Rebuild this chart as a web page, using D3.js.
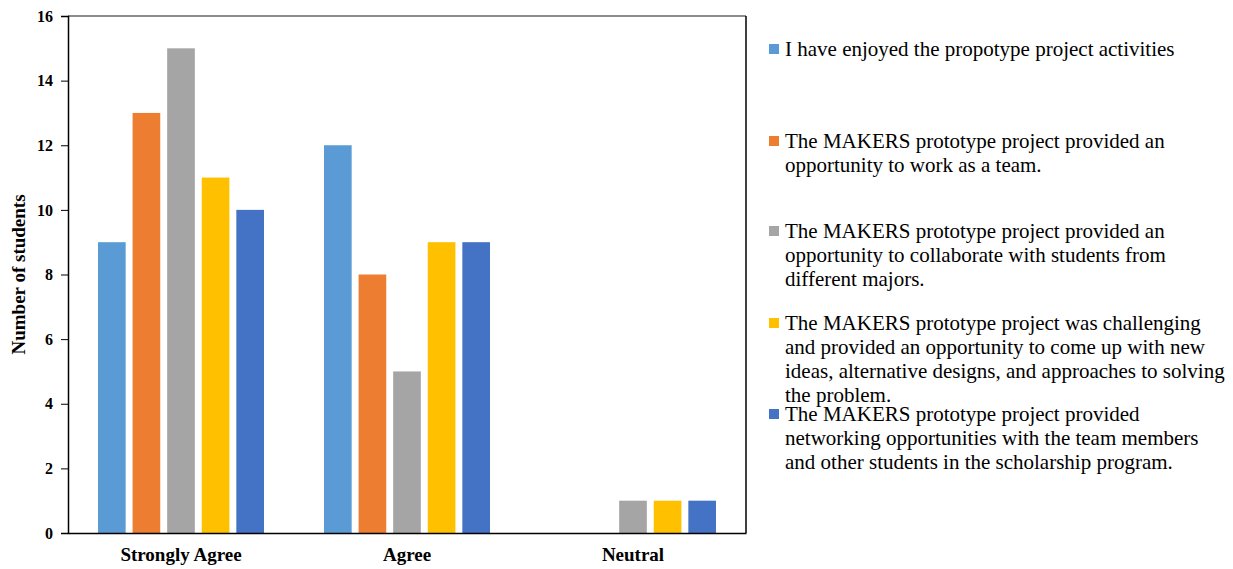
<!DOCTYPE html>
<html lang="en">
<head>
  <meta charset="utf-8" />
  <title>MAKERS prototype project survey</title>
  <script src="https://d3js.org/d3.v7.min.js"></script>
  <style>
    body { margin: 0; background: #fff; }
    svg { display: block; }
    text { font-family: "Liberation Serif", "Times New Roman", serif; fill: #000; }
    .tick text { font-weight: bold; font-size: 16px; }
  </style>
</head>
<body>
  <svg id="chart" width="1233" height="569"></svg>
  <script>
    // data
    const categories = ["Strongly Agree", "Agree", "Neutral"];
    const seriesNames = [
      "I have enjoyed the propotype project activities",
      "The MAKERS prototype project provided an opportunity to work as a team.",
      "The MAKERS prototype project provided an opportunity to collaborate with students from different majors.",
      "The MAKERS prototype project was challenging and provided an opportunity to come up with new ideas, alternative designs, and approaches to solving the problem.",
      "The MAKERS prototype project provided networking opportunities with the team members and other students in the scholarship program."
    ];
    // legend lines as wrapped in the original
    const legendLines = [
      ["I have enjoyed the propotype project activities"],
      ["The MAKERS prototype project provided an", "opportunity to work as a team."],
      ["The MAKERS prototype project provided an", "opportunity to collaborate with students from", "different majors."],
      ["The MAKERS prototype project was challenging", "and provided an opportunity to come up with new", "ideas, alternative designs, and approaches to solving", "the problem."],
      ["The MAKERS prototype project provided", "networking opportunities with the team members", "and other students in the scholarship program."]
    ];
    const series1 = [9, 12, 0];
    const series2 = [13, 8, 0];
    const series3 = [15, 5, 1];
    const series4 = [11, 9, 1];
    const series5 = [10, 9, 1];
    const yTicks = [0, 2, 4, 6, 8, 10, 12, 14, 16];
    const colors = ["#5B9BD5", "#ED7D31", "#A5A5A5", "#FFC000", "#4472C4"];

    const allSeries = [series1, series2, series3, series4, series5];

    const svg = d3.select("#chart");
    const plot = { left: 68, top: 16, right: 746, bottom: 533 };

    const x = d3.scaleBand().domain(categories).range([plot.left, plot.right]).paddingInner(0).paddingOuter(0);
    const groupPad = 30;
    const xInner = d3.scaleBand()
      .domain(d3.range(seriesNames.length))
      .range([groupPad, x.bandwidth() - groupPad])
      .paddingInner(0.2);
    const y = d3.scaleLinear().domain([0, 16]).range([plot.bottom, plot.top]);

    // bars
    const groups = svg.append("g").selectAll("g")
      .data(categories)
      .join("g")
      .attr("transform", d => `translate(${x(d)},0)`);

    groups.selectAll("rect")
      .data((c, ci) => allSeries.map((s, si) => ({ si, v: s[ci] })))
      .join("rect")
      .attr("x", d => xInner(d.si))
      .attr("width", xInner.bandwidth())
      .attr("y", d => y(d.v))
      .attr("height", d => y(0) - y(d.v))
      .attr("fill", d => colors[d.si]);

    // frame
    svg.append("line")
      .attr("x1", plot.left).attr("x2", plot.right)
      .attr("y1", plot.top).attr("y2", plot.top)
      .attr("stroke", "#8c8c8c").attr("stroke-width", 2);
    svg.append("line")
      .attr("x1", plot.right).attr("x2", plot.right)
      .attr("y1", plot.top).attr("y2", plot.bottom)
      .attr("stroke", "#000").attr("stroke-width", 1.5);

    // y axis
    const yAxis = svg.append("g")
      .attr("transform", `translate(${plot.left},0)`)
      .call(d3.axisLeft(y).tickValues(yTicks).tickSize(7).tickPadding(8));
    yAxis.select(".domain").attr("stroke", "#000").attr("stroke-width", 1.5);
    yAxis.selectAll(".tick line").attr("stroke", "#000");

    // x axis
    const xAxis = svg.append("g")
      .attr("transform", `translate(0,${plot.bottom})`)
      .call(d3.axisBottom(x).tickSize(0).tickPadding(15));
    xAxis.select(".domain").attr("stroke", "#000").attr("stroke-width", 1.5);
    xAxis.selectAll(".tick text").style("font-size", "19px");

    // y title
    svg.append("text")
      .attr("transform", `translate(25,${(plot.top + plot.bottom) / 2}) rotate(-90)`)
      .attr("text-anchor", "middle")
      .style("font-weight", "bold")
      .style("font-size", "19px")
      .text("Number of students");

    // legend
    const legendY = [49, 141, 231, 323, 414];
    const lineH = 24;
    const legend = svg.append("g").selectAll("g")
      .data(legendLines)
      .join("g")
      .attr("transform", (d, i) => `translate(769,${legendY[i]})`);

    legend.append("rect")
      .attr("x", 0).attr("y", -5)
      .attr("width", 10).attr("height", 10)
      .attr("fill", (d, i) => colors[i]);

    legend.append("text")
      .attr("x", 16)
      .style("font-size", "21px")
      .selectAll("tspan")
      .data(d => d)
      .join("tspan")
      .attr("x", 16)
      .attr("y", (d, i) => i * lineH)
      .attr("dy", "0.33em")
      .text(d => d);
  </script>
</body>
</html>
